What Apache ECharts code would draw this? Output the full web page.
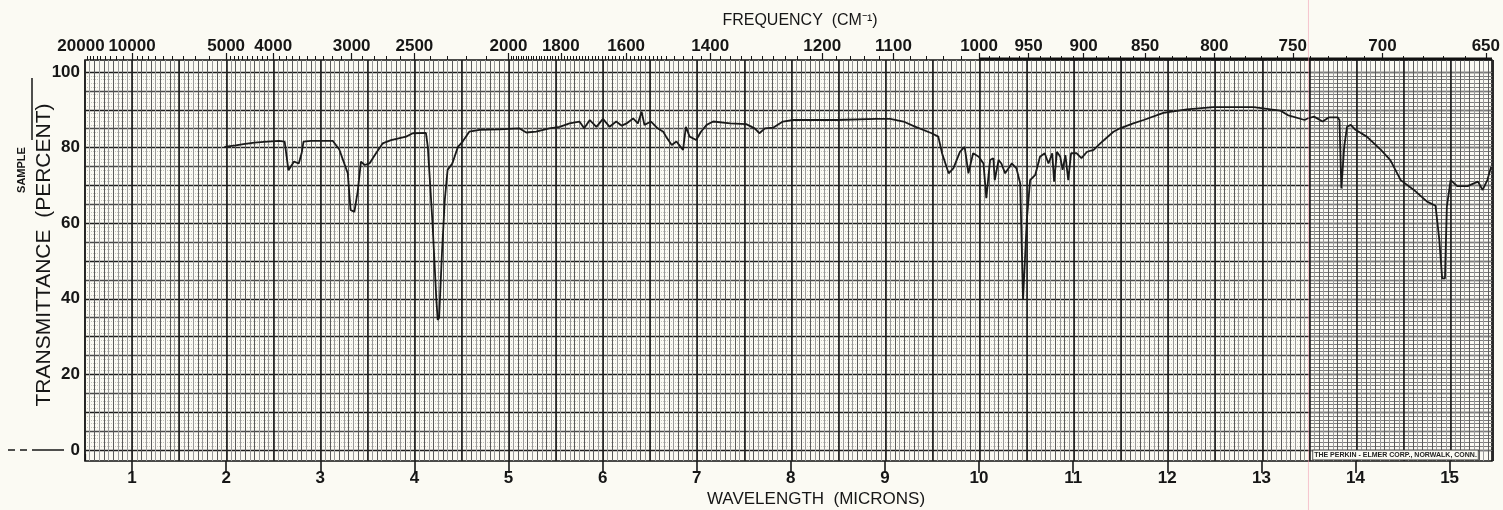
<!DOCTYPE html>
<html><head><meta charset="utf-8">
<script src="https://cdn.jsdelivr.net/npm/echarts@6/dist/echarts.min.js"></script>
<style>html,body{margin:0;padding:0;background:#fbfaf3}#c{width:1503px;height:510px}</style>
</head><body><div id="c"></div>
<script>
// ---- data ----
const wavelength = [
  1.98,2.10,2.20,2.30,2.40,2.56,2.62,2.66,2.72,2.77,2.80,2.82,2.90,3.00,3.13,
  3.20,3.24,3.29,3.32,3.36,3.395,3.43,3.47,3.52,3.59,3.66,3.75,3.91,3.98,4.12,4.14,4.19,4.23,4.245,4.26,4.29,4.32,4.35,4.40,4.46,4.51,4.58,4.69,
  4.90,5.11,5.185,5.29,5.43,5.54,5.645,5.75,5.80,5.86,5.93,6.00,6.07,6.14,6.20,6.25,6.32,6.37,6.41,6.44,6.51,6.58,6.64,6.67,6.73,6.78,6.85,6.88,6.92,6.99,7.04,
  7.10,7.17,7.35,7.52,7.61,7.66,7.72,7.81,7.91,8.02,8.48,8.90,9.05,9.19,9.30,9.49,
  9.56,9.60,9.67,9.72,9.77,9.79,9.84,9.88,9.93,9.99,10.04,10.07,10.11,10.145,10.16,10.20,10.23,10.27,10.34,10.39,10.43,10.46,10.48,10.50,
  10.535,10.59,10.64,10.69,10.73,10.77,10.79,10.82,10.855,10.88,10.91,10.94,10.97,11.03,11.08,11.14,11.21,11.28,11.42,11.49,11.63,11.74,
  11.95,12.20,12.48,12.91,13.09,13.19,13.27,13.45,13.48,13.55,13.64,13.71,13.80,13.82,
  13.84,13.87,13.90,13.94,13.99,14.11,14.26,14.36,14.47,14.61,14.75,14.84,14.88,14.91,14.94,14.96,15.00,15.07,15.18,15.29,15.34,15.39,15.43
];
const transmittance = [
  80.2,80.6,81.0,81.3,81.5,81.8,81.6,74.0,76.3,75.8,78.5,81.6,81.8,81.8,81.8,
  79.5,76.7,73.2,63.5,63.0,68.3,76.3,75.4,75.8,78.5,81.1,82.0,82.9,83.8,83.9,80.2,60.0,40.0,34.4,35.0,52.0,66.1,74.1,75.8,80.2,81.6,84.2,84.7,
  84.8,85.1,84.0,84.2,85.1,85.5,86.4,86.9,85.1,87.3,85.5,87.6,85.5,86.9,85.8,86.4,87.7,86.4,89.5,86.0,86.9,85.1,84.2,82.9,80.7,81.6,79.4,85.5,82.9,82.0,84.2,
  86.0,86.9,86.4,86.2,85.1,83.8,85.1,85.3,86.9,87.3,87.3,87.6,87.6,86.9,85.7,83.8,
  82.9,78.5,73.2,74.5,77.6,78.9,80.2,73.2,78.5,77.6,75.8,66.6,76.7,77.2,71.4,76.7,75.8,73.2,75.8,74.5,70.5,39.7,39.2,60.8,
  71.4,72.8,77.6,78.5,75.8,78.5,71.0,78.9,77.6,74.1,78.0,71.4,78.5,78.5,77.2,78.9,79.4,81.1,84.2,85.1,86.4,87.3,
  89.2,90.1,90.7,90.7,90.1,89.8,88.6,87.3,87.7,88.2,86.9,88.0,88.0,87.3,
  69.2,80.2,85.5,86.0,84.7,82.9,79.4,76.7,71.4,68.8,65.7,64.6,55.6,45.4,45.4,64.4,71.4,69.8,69.8,71.0,68.8,71.4,74.9
];
const wavelengthTicks = [1,2,3,4,5,6,7,8,9,10,11,12,13,14,15];
const frequencyLabels = [20000,10000,5000,4000,3000,2500,2000,1800,1600,1400,1200,1100,1000,950,900,850,800,750,700,650];
const percentLabels = [0,20,40,60,80,100];
const paperLabelColumns = [4.5, 8, 11.5, 15];

// minor frequency ticks printed along the top edge
const frequencyMinor = [];
function addRange(a, b, s){ for (let f = a; f >= b; f -= s) if (frequencyLabels.indexOf(f) < 0) frequencyMinor.push(f); }
addRange(19000, 11000, 1000); addRange(9500, 5500, 500); addRange(4900, 2100, 100);
addRange(1990, 1510, 10); addRange(1500, 1020, 20); addRange(990, 650, 10);

const XMIN = 0.5, XMAX = 15.45;
const FONT = 'Liberation Sans';
const INK = '#161616';
const BG = '#fbfaf3';

const paperGrid = {left: 85, right: 10, top: 60, bottom: 49};
const dataGrid = {left: 85, right: 10, top: 72, bottom: 60};

const chart = echarts.init(document.getElementById('c'), null, {renderer: 'canvas'});

const labelPoints = [];
paperLabelColumns.forEach(c => percentLabels.forEach(p => labelPoints.push([c, p])));

const toMicron = f => 10000 / f;
const freqFirst = frequencyLabels.slice(0, 1);
const freqRest = frequencyLabels.slice(1);
const tickFont = {fontFamily: FONT, fontSize: 17, fontWeight: 'bold', color: INK};

const option = {
  backgroundColor: BG,
  animation: false,
  grid: [
    Object.assign({show: false}, paperGrid),                                                              // 0 fine lines
    Object.assign({show: true, borderColor: '#111', borderWidth: 1.6, backgroundColor: 'transparent'}, paperGrid), // 1 labels
    Object.assign({show: false}, dataGrid),                                                               // 2 data
    {left: 1309, right: 10, top: 72, bottom: 60, show: false},                                            // 3 dense section
    Object.assign({show: false}, paperGrid),                                                              // 4 heavy lines
    Object.assign({show: false}, paperGrid)                                                               // 5 first freq label
  ],
  xAxis: [
    { // 0 fine vertical lines
      gridIndex: 0, type: 'value', min: XMIN, max: XMAX, interval: 0.1, position: 'bottom',
      axisLine: {show: false}, axisTick: {show: false}, axisLabel: {show: false},
      splitLine: {show: true, lineStyle: {color: '#5a5a5a', width: 1}},
      minorTick: {show: false, splitNumber: 2},
      minorSplitLine: {show: true, lineStyle: {color: '#9a9a9a', width: 1}}
    },
    { // 1 minor frequency ticks on top
      gridIndex: 0, type: 'value', min: XMIN, max: XMAX, position: 'top',
      axisLine: {show: false}, splitLine: {show: false},
      axisTick: {show: true, inside: false, length: 4, customValues: frequencyMinor.map(toMicron), lineStyle: {color: INK, width: 1}},
      axisLabel: {show: false}
    },
    { // 2 bottom wavelength labels
      gridIndex: 1, type: 'value', min: XMIN, max: XMAX, position: 'bottom',
      axisLine: {show: false}, splitLine: {show: false},
      axisTick: {show: true, length: 12, customValues: wavelengthTicks, lineStyle: {color: INK, width: 1.6}},
      axisLabel: Object.assign({show: true, customValues: wavelengthTicks, margin: 9, showMinLabel: true, showMaxLabel: true}, tickFont)
    },
    { // 3 frequency labels on top
      gridIndex: 1, type: 'value', min: XMIN, max: XMAX, position: 'top',
      axisLine: {show: false}, splitLine: {show: false},
      axisTick: {show: true, length: 7, customValues: freqRest.map(toMicron), lineStyle: {color: INK, width: 1.2}},
      axisLabel: Object.assign({show: true, customValues: freqRest.map(toMicron), margin: 5,
        formatter: v => String(Math.round(10000 / v)), showMinLabel: true, showMaxLabel: true, hideOverlap: false}, tickFont)
    },
    { // 4 data axis (hidden)
      gridIndex: 2, type: 'value', min: XMIN, max: XMAX, show: false
    },
    { // 5 dense paper section at long wavelengths (horizontal lines only)
      gridIndex: 3, type: 'value', min: 13.5, max: XMAX, show: false
    },
    { // 6 heavy 0.5 micron lines
      gridIndex: 4, type: 'value', min: XMIN, max: XMAX, interval: 0.5, position: 'bottom',
      axisLine: {show: false}, axisTick: {show: false}, axisLabel: {show: false},
      splitLine: {show: true, lineStyle: {color: '#1e1e1e', width: 1.6}}
    },
    { // 7 first frequency label (own axis so it is not dropped)
      gridIndex: 5, type: 'value', min: XMIN, max: XMAX, position: 'top',
      axisLine: {show: false}, splitLine: {show: false},
      axisTick: {show: true, length: 7, customValues: freqFirst.map(toMicron), lineStyle: {color: INK, width: 1.2}},
      axisLabel: Object.assign({show: true, customValues: freqFirst.map(toMicron), margin: 5, padding: [0, 8, 0, 0],
        formatter: v => String(Math.round(10000 / v)), showMinLabel: true, showMaxLabel: true}, tickFont)
    }
  ],
  yAxis: [
    {gridIndex: 0, type: 'value', min: 0, max: 1, show: false},
    {gridIndex: 1, type: 'value', min: 0, max: 1, show: false},
    {
      gridIndex: 2, type: 'value', min: 0, max: 100, interval: 5,
      axisLine: {show: false}, axisTick: {show: false},
      axisLabel: Object.assign({show: true, customValues: percentLabels, margin: 5}, tickFont),
      splitLine: {show: true, lineStyle: {color: ['#1e1e1e', '#4a4a4a'], width: 1.3}},
      minorTick: {show: false, splitNumber: 5},
      minorSplitLine: {show: true, lineStyle: {color: '#c4c4bc', width: 1, type: 'dotted'}}
    },
    {
      gridIndex: 3, type: 'value', min: 0, max: 100, interval: 1, show: true,
      axisLine: {show: false}, axisTick: {show: false}, axisLabel: {show: false},
      splitLine: {show: true, lineStyle: {color: '#7c7c7c', width: 1}}
    },
    {gridIndex: 4, type: 'value', min: 0, max: 1, show: false},
    {gridIndex: 5, type: 'value', min: 0, max: 1, show: false}
  ],
  series: [
    {
      type: 'scatter', xAxisIndex: 4, yAxisIndex: 2, data: labelPoints,
      symbolSize: 1, itemStyle: {opacity: 0}, silent: true, z: 3,
      label: {show: true, position: 'inside', formatter: p => String(p.value[1]), fontFamily: FONT, fontSize: 7, color: '#222',
        backgroundColor: 'rgba(251,250,243,0.6)'}
    },
    {
      type: 'line', xAxisIndex: 4, yAxisIndex: 2, showSymbol: false, smooth: false, z: 5,
      data: wavelength.map((w, i) => [w, transmittance[i]]),
      lineStyle: {color: '#1a1a1a', width: 1.8}
    }
  ]
};
chart.setOption(option);

// decorations positioned from the axis scales
const xAt = v => chart.convertToPixel({xAxisIndex: 2}, v);
const pinkX = xAt(13.5);
const x10 = xAt(10);
const right = xAt(XMAX);
const peX = xAt(13.55);
chart.setOption({
  graphic: [
    {type: 'text', x: 800, y: 21, silent: true, style: {text: 'FREQUENCY  (CM⁻¹)', font: '16px "' + FONT + '"', fill: INK, align: 'center', verticalAlign: 'middle'}},
    {type: 'text', x: 816, y: 499, silent: true, style: {text: 'WAVELENGTH  (MICRONS)', font: '17px "' + FONT + '"', fill: INK, align: 'center', verticalAlign: 'middle'}},
    {type: 'text', x: 44, y: 255, rotation: Math.PI / 2, silent: true, style: {text: 'TRANSMITTANCE  (PERCENT)', font: '21px "' + FONT + '"', fill: INK, align: 'center', verticalAlign: 'middle'}},
    {type: 'text', x: 22, y: 170, rotation: Math.PI / 2, silent: true, style: {text: 'SAMPLE', font: 'bold 11px "' + FONT + '"', fill: INK, align: 'center', verticalAlign: 'middle'}},
    {type: 'line', silent: true, shape: {x1: 32, y1: 78, x2: 32, y2: 140}, style: {stroke: INK, lineWidth: 1.5}},
    {type: 'line', silent: true, shape: {x1: 8, y1: 450, x2: 15, y2: 450}, style: {stroke: INK, lineWidth: 1.5}},
    {type: 'line', silent: true, shape: {x1: 20, y1: 450, x2: 27, y2: 450}, style: {stroke: INK, lineWidth: 1.5}},
    {type: 'line', silent: true, shape: {x1: 32, y1: 450, x2: 64, y2: 450}, style: {stroke: INK, lineWidth: 1.5}},
    {type: 'line', silent: true, z: 10, shape: {x1: x10, y1: 59, x2: right, y2: 59}, style: {stroke: '#111', lineWidth: 3}},
    {type: 'line', silent: true, z: 20, shape: {x1: pinkX, y1: 0, x2: pinkX, y2: 510}, style: {stroke: 'rgba(240,150,175,0.55)', lineWidth: 1}},
    {type: 'text', x: peX, y: 455, silent: true, z: 10, style: {text: 'THE PERKIN - ELMER CORP., NORWALK, CONN.', font: 'bold 7px "' + FONT + '"', fill: '#222', align: 'left', verticalAlign: 'middle', backgroundColor: BG, padding: [1, 1], borderColor: '#333', borderWidth: 0.8}}
  ]
});
</script>
</body></html>
